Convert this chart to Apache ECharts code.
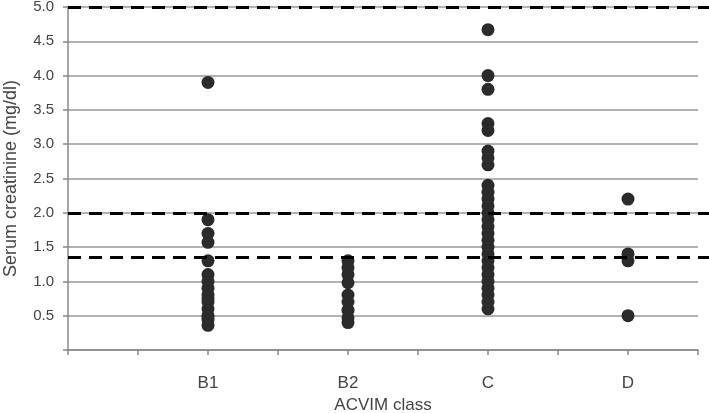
<!DOCTYPE html>
<html>
<head>
<meta charset="utf-8">
<script src="https://cdn.jsdelivr.net/npm/echarts@6/dist/echarts.min.js"></script>
<style>
  html, body { margin: 0; padding: 0; background: #fff; }
  #chart { width: 709px; height: 413px; }
</style>
</head>
<body>
<div id="chart"></div>
<script>
// x axis slots: classes sit on every second tick
const slots = ['', '', 'B1', '', 'B2', '', 'C', '', 'D', ''];
const classes = ['B1', 'B2', 'C', 'D'];

// serum creatinine (mg/dl) per class
const valuesB1 = [3.9, 1.9, 1.7, 1.57, 1.3, 1.1, 1.0, 0.9, 0.8, 0.75, 0.7, 0.6, 0.5, 0.45, 0.36];
const valuesB2 = [1.3, 1.2, 1.1, 0.98, 0.8, 0.7, 0.58, 0.47, 0.4];
const valuesC = [4.67, 4.0, 3.8, 3.3, 3.2, 2.9, 2.8, 2.7, 2.4, 2.3, 2.2, 2.1, 2.0, 1.9, 1.8, 1.7, 1.6,
  1.5, 1.4, 1.3, 1.2, 1.1, 1.0, 0.9, 0.8, 0.7, 0.6];
const valuesD = [2.2, 1.4, 1.3, 0.5];

// dashed reference lines
const cutoffs = [5.0, 2.0, 1.35];

const yTicks = ['0.5', '1.0', '1.5', '2.0', '2.5', '3.0', '3.5', '4.0', '4.5', '5.0'];

const allValues = [valuesB1, valuesB2, valuesC, valuesD];
const points = [];
classes.forEach((c, i) => {
  allValues[i].forEach(v => points.push([c, v]));
});

const font = 'Liberation Sans, Arial, sans-serif';
const chart = echarts.init(document.getElementById('chart'));

chart.setOption({
  animation: false,
  backgroundColor: '#fff',
  grid: [
    {left: 68, right: 11, top: 7, bottom: 63, outerBoundsMode: 'none', containLabel: false},
    // wider grid only for the dashed lines, they run to the right edge
    {left: 68, right: 0, top: 7, bottom: 63, outerBoundsMode: 'none', containLabel: false}
  ],
  xAxis: [
    {
      type: 'category',
      gridIndex: 0,
      data: slots,
      boundaryGap: false,
      name: 'ACVIM class',
      nameLocation: 'middle',
      nameGap: 44,
      nameTextStyle: {color: '#444', fontSize: 17, fontFamily: font},
      axisLine: {lineStyle: {color: '#888', width: 1.5}},
      axisTick: {show: true, length: 5, interval: 0, lineStyle: {color: '#888', width: 1.5}},
      axisLabel: {interval: 0, margin: 25, color: '#444', fontSize: 17, fontFamily: font},
      splitLine: {show: false}
    },
    {type: 'value', gridIndex: 1, min: 0, max: 1, show: false}
  ],
  yAxis: [
    {
      type: 'value',
      gridIndex: 0,
      min: 0,
      max: 5,
      interval: 0.5,
      name: 'Serum creatinine (mg/dl)',
      nameLocation: 'middle',
      nameGap: 48,
      nameTextStyle: {color: '#444', fontSize: 18, fontFamily: font},
      axisLine: {show: true, lineStyle: {color: '#888', width: 1.5}},
      axisTick: {show: true, length: 5, lineStyle: {color: '#888', width: 1.5}},
      axisLabel: {
        margin: 14,
        color: '#444',
        fontSize: 15,
        fontFamily: font,
        formatter: v => yTicks.find(t => Math.abs(parseFloat(t) - v) < 1e-6) || ''
      },
      splitLine: {show: true, lineStyle: {color: '#999', width: 1.5}}
    },
    {type: 'value', gridIndex: 1, min: 0, max: 5, show: false}
  ],
  series: [
    {
      type: 'scatter',
      xAxisIndex: 0,
      yAxisIndex: 0,
      data: points,
      symbolSize: 13,
      itemStyle: {color: '#2b2b2b', opacity: 1},
      z: 3
    },
    {
      type: 'line',
      xAxisIndex: 1,
      yAxisIndex: 1,
      data: [],
      z: 4,
      markLine: {
        silent: true,
        symbol: 'none',
        label: {show: false},
        lineStyle: {color: '#000', width: 3, type: [13, 8]},
        data: cutoffs.map(v => ({yAxis: v}))
      }
    }
  ]
});
</script>
</body>
</html>
